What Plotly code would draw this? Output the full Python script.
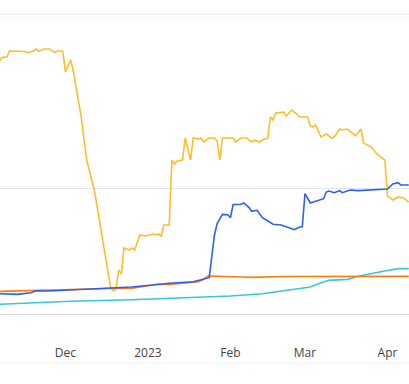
import plotly.graph_objects as go

# ---- data ----
yellow_dates = ["2022-11-06","2022-11-07","2022-11-08","2022-11-09","2022-11-10","2022-11-12","2022-11-14","2022-11-16","2022-11-17","2022-11-19","2022-11-20","2022-11-21","2022-11-23","2022-11-25","2022-11-27","2022-11-28","2022-11-30","2022-12-01","2022-12-03","2022-12-04","2022-12-06","2022-12-07","2022-12-08","2022-12-09","2022-12-12","2022-12-18","2022-12-19","2022-12-20","2022-12-21","2022-12-22","2022-12-23","2022-12-25","2022-12-26","2022-12-27","2022-12-29","2022-12-31","2023-01-03","2023-01-04","2023-01-05","2023-01-06","2023-01-07","2023-01-09","2023-01-10","2023-01-11","2023-01-12","2023-01-14","2023-01-15","2023-01-17","2023-01-18","2023-01-20","2023-01-21","2023-01-22","2023-01-24","2023-01-26","2023-01-27","2023-01-28","2023-01-29","2023-02-02","2023-02-03","2023-02-05","2023-02-07","2023-02-09","2023-02-10","2023-02-12","2023-02-13","2023-02-15","2023-02-16","2023-02-17","2023-02-18","2023-02-21","2023-02-22","2023-02-24","2023-02-26","2023-02-27","2023-03-02","2023-03-03","2023-03-04","2023-03-05","2023-03-07","2023-03-09","2023-03-11","2023-03-12","2023-03-14","2023-03-15","2023-03-17","2023-03-19","2023-03-20","2023-03-22","2023-03-23","2023-03-26","2023-03-28","2023-03-31","2023-04-01","2023-04-03","2023-04-05","2023-04-07","2023-04-09"]
yellow_values = [200.0,203.2,204.0,204.0,208.7,208.7,208.7,208.3,207.4,208.7,210.3,208.7,210.3,210.3,207.4,208.7,208.7,192.1,201.6,192.1,167.5,155.6,138.1,122.2,96.8,20.6,18.3,19.8,34.9,31.7,52.4,50.8,52.4,50.8,62.7,61.9,63.5,62.7,63.5,61.9,70.6,70.6,122.2,119.1,121.4,122.2,139.7,122.2,139.7,138.9,139.7,136.5,139.7,139.7,137.3,122.2,139.7,139.7,136.5,139.7,139.7,136.5,138.1,136.5,138.1,139.7,156.4,154.0,159.5,160.3,157.1,161.9,158.7,156.4,156.4,149.2,148.4,150.0,140.5,142.9,139.7,140.5,146.8,146.0,146.8,142.9,141.3,146.8,135.7,132.5,127.0,122.2,93.7,90.5,92.9,92.1,88.9]

blue_dates = ["2022-11-06","2022-11-13","2022-11-18","2022-11-20","2022-11-25","2022-12-03","2022-12-18","2022-12-26","2023-01-09","2023-01-18","2023-01-22","2023-01-24","2023-01-26","2023-01-27","2023-01-29","2023-01-31","2023-02-01","2023-02-02","2023-02-05","2023-02-06","2023-02-08","2023-02-09","2023-02-11","2023-02-13","2023-02-17","2023-02-20","2023-02-23","2023-02-25","2023-02-27","2023-02-28","2023-03-01","2023-03-03","2023-03-05","2023-03-08","2023-03-09","2023-03-10","2023-03-12","2023-03-14","2023-03-15","2023-03-18","2023-03-21","2023-03-26","2023-04-01","2023-04-03","2023-04-05","2023-04-06","2023-04-09"]
blue_values = [16.1,15.6,16.9,18.5,18.3,19.3,20.6,21.4,24.4,25.6,27.5,28.8,62.7,71.7,79.1,78.8,76.4,86.8,87.1,88.1,84.4,81.5,82.3,76.4,71.2,70.6,68.5,66.9,69.1,69.3,95.5,88.1,89.4,91.5,96.8,97.6,96.3,97.9,96.3,98.4,97.9,98.4,99.2,103.2,104.2,102.4,102.4]

orange_dates = ["2022-11-06","2022-11-18","2022-11-25","2022-12-18","2022-12-26","2023-01-05","2023-01-09","2023-01-20","2023-01-22","2023-01-23","2023-01-24","2023-02-05","2023-02-10","2023-02-20","2023-04-09"]
orange_values = [17.9,18.8,19.0,20.2,20.4,23.6,23.4,25.6,27.5,29.6,30.2,29.4,29.1,29.8,29.9]

cyan_dates = ["2022-11-06","2022-12-03","2022-12-26","2023-01-22","2023-02-01","2023-02-13","2023-02-21","2023-03-03","2023-03-06","2023-03-10","2023-03-17","2023-03-21","2023-03-29","2023-04-05","2023-04-09"]
cyan_values = [7.7,10.1,11.3,13.9,14.3,16.1,18.3,21.4,24.0,26.7,27.5,29.9,33.3,36.0,36.0]

tick_dates = ["2022-12-01","2023-01-01","2023-02-01","2023-03-01","2023-04-01"]
tick_labels = ["Dec","2023","Feb","Mar","Apr"]

x_range = ["2022-11-06 10:00","2023-04-09 02:00"]
y_range = [0, 237.3]

fig = go.Figure()
lw = 1.6
fig.add_trace(go.Scatter(x=cyan_dates, y=cyan_values, mode="lines",
                         line=dict(color="#35c8d8", width=lw)))
fig.add_trace(go.Scatter(x=yellow_dates, y=yellow_values, mode="lines",
                         line=dict(color="#fbbf2a", width=lw)))
fig.add_trace(go.Scatter(x=orange_dates, y=orange_values, mode="lines",
                         line=dict(color="#fb7d0c", width=lw)))
fig.add_trace(go.Scatter(x=blue_dates, y=blue_values, mode="lines",
                         line=dict(color="#2f5fee", width=lw)))

fig.update_layout(
    width=409, height=384,
    margin=dict(l=0, r=0, t=15, b=70),
    paper_bgcolor="white", plot_bgcolor="white",
    showlegend=False, hovermode=False,
    font=dict(family="Open Sans, sans-serif", size=12, color="#444"),
    xaxis=dict(type="date", range=x_range, showgrid=False, zeroline=False,
               showline=True, linecolor="#d6d6d6", linewidth=1, automargin=False,
               tickvals=tick_dates, ticktext=tick_labels, ticks="",
               ticklabelstandoff=28, tickfont=dict(size=12, color="#444")),
    yaxis=dict(range=y_range, tickvals=[100], showticklabels=False, automargin=False,
               showgrid=True, gridcolor="#e0e6f1", gridwidth=1,
               zeroline=False, showline=False),
    shapes=[
        dict(type="rect", xref="paper", yref="paper", x0=0, x1=1, y0=1.0, y1=1.0067,
             fillcolor="#f2f2f2", line=dict(width=0), layer="above"),
        dict(type="rect", xref="paper", yref="paper", x0=0, x1=1, y0=0.975, y1=1.0,
             fillcolor="rgba(0,0,0,0.012)", line=dict(width=0), layer="below"),
        dict(type="line", xref="paper", yref="paper", x0=0, x1=1, y0=-0.1639, y1=-0.1639,
             line=dict(color="#f3f3f3", width=1)),
    ],
)

fig.write_html("out.html", config={"displayModeBar": False},
               post_script="document.body.style.margin='0';")
